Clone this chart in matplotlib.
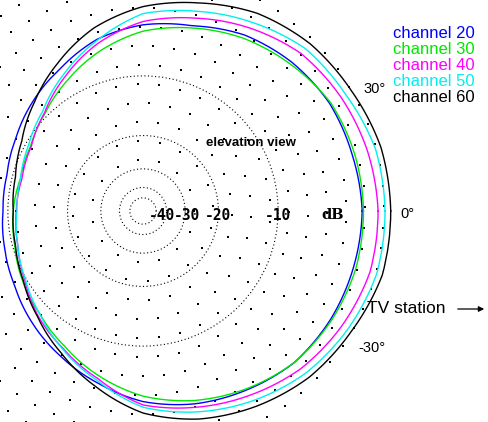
import numpy as np
import matplotlib
matplotlib.use("Agg")
import matplotlib.pyplot as plt

# elevation pattern, dB, every 15 deg (0 = towards the TV station)
angles = np.arange(0, 360, 15)
ch20 = [-1.7, -1.9, -2.0, -2.4, -3.0, -4.0, -4.5, -5.3, -6.6, -7.6, -8.6, -9.3,
        -9.4, -9.0, -8.4, -7.4, -6.4, -5.3, -4.1, -3.3, -2.7, -2.1, -1.9, -1.8]
ch30 = [-1.6, -1.7, -1.9, -2.6, -3.3, -4.2, -5.1, -6.5, -8.1, -9.6, -10.7, -11.1,
        -10.7, -10.3, -9.5, -8.7, -7.5, -6.0, -4.6, -3.6, -2.8, -2.1, -1.8, -1.6]
ch40 = [-0.5, -0.7, -1.0, -1.4, -2.3, -3.3, -4.2, -5.7, -7.6, -9.5, -10.8, -11.3,
        -11.1, -10.7, -9.8, -8.4, -7.2, -5.7, -3.8, -3.0, -2.2, -1.4, -0.9, -0.5]
ch50 = [0.0, -0.1, -0.6, -0.9, -1.8, -2.7, -3.5, -5.4, -7.3, -9.2, -10.4, -11.1,
        -11.2, -10.7, -9.9, -8.7, -7.1, -5.5, -3.6, -2.6, -1.7, -0.9, -0.4, 0.0]
ch60 = [0.4, 0.3, -0.1, -0.4, -1.0, -2.0, -2.9, -4.2, -6.0, -7.8, -9.4, -10.4,
        -10.7, -10.4, -9.6, -8.3, -6.7, -4.9, -3.1, -2.0, -1.2, -0.5, -0.1, 0.4]

series = [ch20, ch30, ch40, ch50, ch60]
names = ["channel 20", "channel 30", "channel 40", "channel 50", "channel 60"]
colors = ["#0000ff", "#00e800", "#ff00ff", "#00f0f0", "#000000"]
ring_levels = [-50, -40, -30, -20, -10]
ring_labels = ["", "-40", "-30", "-20", "-10"]

# ARRL log scale: radius shrinks by 0.89 every 2 dB
k = -np.log(0.89) / 2
def fwd(db):
    return np.exp(k * np.asarray(db, dtype=float))
def inv(s):
    return np.log(np.clip(np.asarray(s, dtype=float), 1e-12, None)) / k

W, H = 489, 422
cx, cy = 143, 211      # centre of the diagram, px from top left
R0 = 242               # 0 dB radius in px
rmax = 9
Rax = R0 * float(fwd(rmax))

fig = plt.figure(figsize=(W / 100, H / 100), dpi=100)
ax = fig.add_axes([(cx - Rax) / W, (H - cy - Rax) / H, 2 * Rax / W, 2 * Rax / H],
                  projection="polar")
ax.set_rscale("function", functions=(fwd, inv))
ax.set_rlim(-200, rmax)
ax.set_facecolor("none")
ax.spines["polar"].set_visible(False)
ax.set_thetagrids([])
ax.set_rgrids(ring_levels, labels=[""] * len(ring_levels))
ax.yaxis.grid(True, color="k", lw=0.8, ls=(0, (1, 2.2)))
ax.xaxis.grid(False)

# sparse background dots, roughly 20 px apart
for i, rpx in enumerate(np.arange(51, 250, 19)):
    lev = float(inv(rpx / R0))
    n = max(int(2 * np.pi * rpx / 21), 5)
    th = np.linspace(0, 2 * np.pi, n, endpoint=False) + i * 0.7
    ax.scatter(th, np.full(n, lev), s=1.2, c="k", marker="s", lw=0, zorder=1)

theta = np.deg2rad(np.append(angles, 360))
for vals, col in zip(series, colors):
    ln, = ax.plot(theta, np.append(vals, vals[0]), color=col, lw=1.0, zorder=3)
    ln.get_path()._interpolation_steps = 40   # follow the polar grid between points

# dB labels along the 0 deg line
offs = [0, -3, 1, 0, 0]
for lev, lab, dx in zip(ring_levels, ring_labels, offs):
    if lab:
        ax.annotate(lab, xy=(0, lev), xytext=(dx, -3), textcoords="offset points",
                    ha="center", va="center", fontsize=10.5, fontweight="bold",
                    family="DejaVu Sans Mono", zorder=5)
ax.annotate("dB", xy=(0, -4.2), xytext=(0, -3), textcoords="offset points",
            ha="center", va="center", fontsize=10.5, fontweight="bold",
            family="DejaVu Serif", zorder=5)

def ftext(x, y, s, **kw):
    fig.text(x / W, 1 - y / H, s, va="baseline", family="Liberation Sans", **kw)

ftext(400, 218, "0°", fontsize=10.5)
ftext(363, 93, "30°", fontsize=10.5)
ftext(358, 352, "-30°", fontsize=10.5)
ftext(206, 146, "elevation view", fontsize=9.5, fontweight="bold")
ftext(367, 313, "TV station", fontsize=12.5)

for i, (nm, col) in enumerate(zip(names, colors)):
    ftext(393, 38 + 16 * i, nm, fontsize=12, color=col)

fig.add_artist(matplotlib.patches.FancyArrowPatch(
    (455 / W, 1 - 309 / H), (487 / W, 1 - 309 / H), transform=fig.transFigure,
    arrowstyle="-|>", mutation_scale=8, lw=0.9, color="k"))

fig.savefig("out.png", dpi=100, facecolor="white")
